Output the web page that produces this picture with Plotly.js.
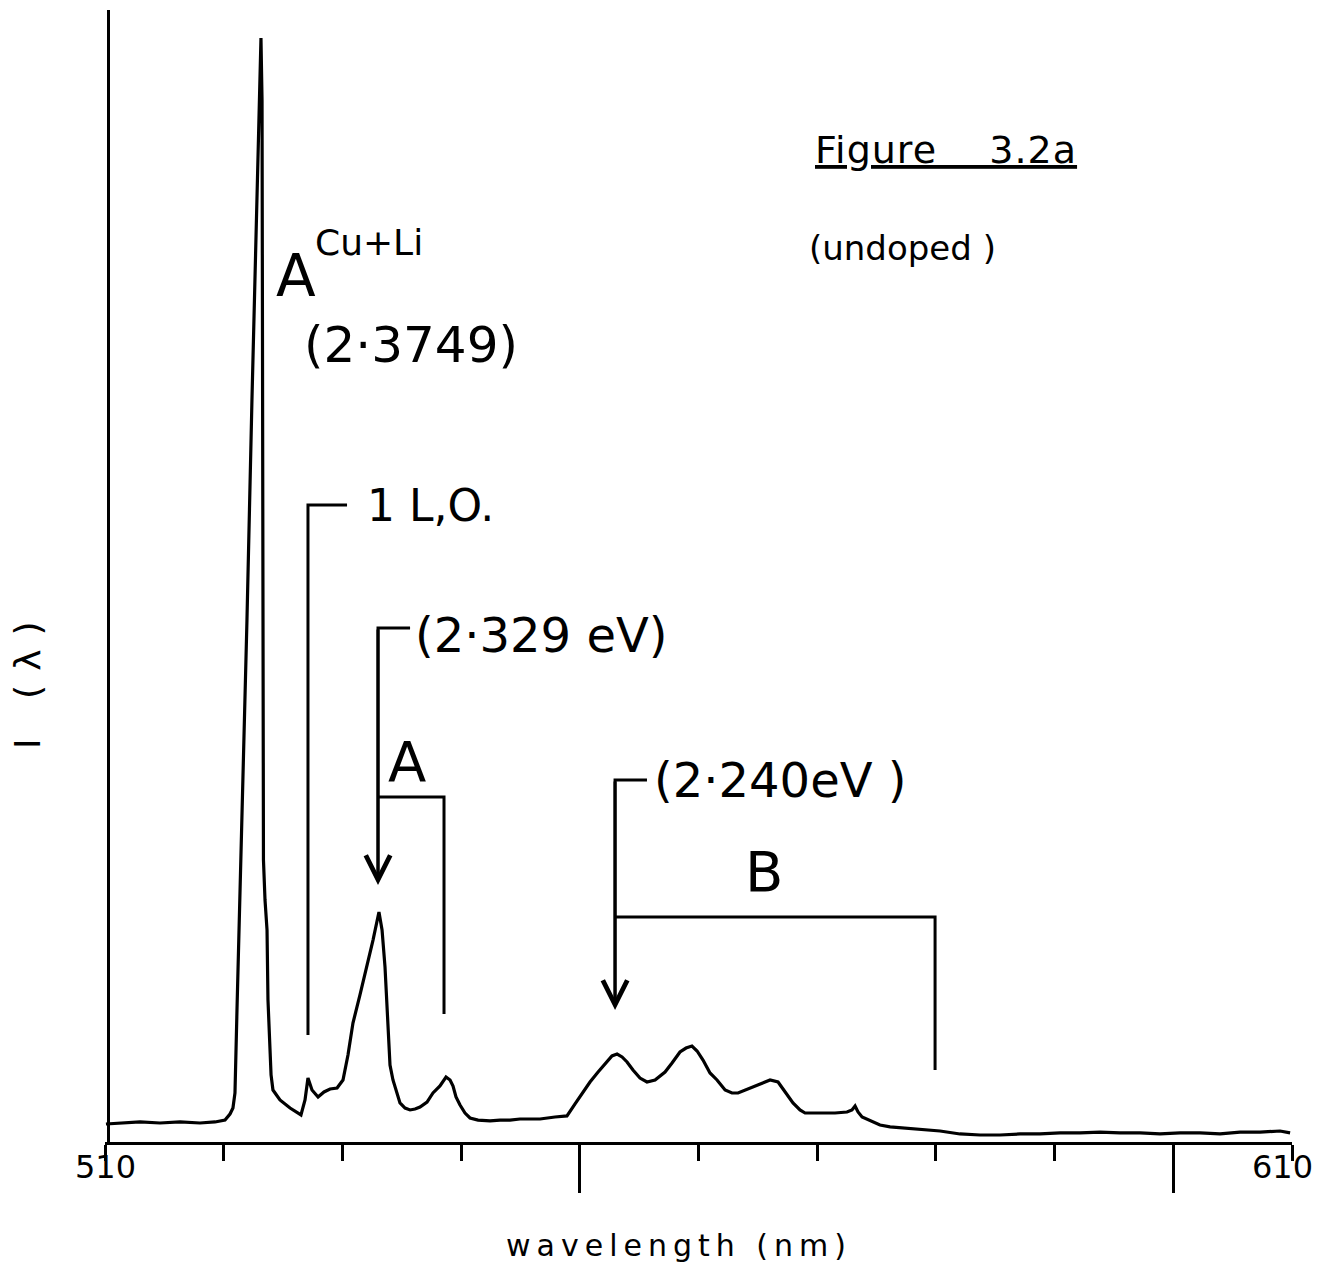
<!DOCTYPE html>
<html>
<head>
<meta charset="utf-8">
<script src="https://cdn.plot.ly/plotly-3.0.1.min.js"></script>
<style>
html, body { margin: 0; padding: 0; background: #ffffff; }
#chart { width: 1319px; height: 1268px; }
.annotation[data-index="0"] text { letter-spacing: 6px; }
.annotation[data-index="1"] text { letter-spacing: 14px; }
.annotation[data-index="2"] text { letter-spacing: 1px; }
</style>
</head>
<body>
<div id="chart"></div>
<script>
// Wavelength (nm) of the traced photoluminescence spectrum
const wavelength = [
  510.08, 511.26, 512.95, 514.63, 516.32, 518.00, 519.27, 520.11, 520.53, 520.78,
  520.95, 521.12, 521.37, 521.63, 521.96, 522.38, 522.72, 522.97, 523.14, 523.23,
  523.27, 523.31, 523.35, 523.48, 523.65, 523.73, 523.90, 523.99, 524.15, 524.74,
  525.59, 526.51, 526.85, 527.10, 527.44, 527.95, 528.45, 528.96, 529.55, 530.05,
  530.47, 530.89, 531.48, 532.07, 532.58, 533.08, 533.34, 533.59, 533.84, 534.01,
  534.26, 534.60, 534.85, 535.28, 535.70, 536.12, 536.54, 537.13, 537.63, 538.22,
  538.73, 539.07, 539.32, 539.57, 539.91, 540.33, 540.75, 541.43, 542.44, 543.28,
  544.12, 544.96, 545.81, 546.65, 547.91, 548.92, 549.60, 550.27, 550.86, 551.54,
  552.13, 552.71, 553.14, 553.56, 553.98, 554.48, 555.07, 555.66, 556.34, 557.18,
  557.77, 558.44, 558.95, 559.45, 559.88, 560.38, 560.97, 561.56, 562.24, 562.82,
  563.33, 563.92, 564.59, 565.35, 566.03, 566.70, 567.29, 567.96, 568.55, 568.98,
  569.82, 570.49, 571.50, 572.51, 572.93, 573.19, 573.44, 573.78, 574.70, 575.29,
  576.14, 577.40, 578.66, 580.35, 582.03, 583.72, 585.40, 587.09, 588.77, 590.46,
  592.14, 593.83, 595.51, 597.20, 598.88, 600.57, 602.25, 603.94, 605.62, 607.31,
  608.99, 609.84
];

// Intensity I(λ), arbitrary units
const intensity = [
  1.59, 1.68, 1.77, 1.68, 1.77, 1.68, 1.77, 1.94, 2.47, 3.00,
  4.33, 11.66, 21.38, 31.98, 46.11, 65.55, 79.68, 91.17, 97.53, 92.05,
  65.55, 39.05, 24.91, 21.38, 18.73, 12.54, 7.24, 5.92, 4.59, 3.71,
  3.00, 2.39, 3.71, 5.65, 4.59, 3.98, 4.42, 4.68, 4.77, 5.48,
  7.69, 10.51, 12.99, 15.46, 17.84, 20.32, 18.73, 15.46, 9.89, 6.80,
  5.48, 4.42, 3.45, 3.00, 2.83, 2.92, 3.09, 3.53, 4.33, 4.95,
  5.74, 5.48, 4.95, 3.98, 3.27, 2.56, 2.12, 1.94, 1.86, 1.94,
  1.94, 2.03, 2.03, 2.03, 2.21, 2.30, 3.36, 4.42, 5.30, 6.18,
  6.89, 7.60, 7.77, 7.51, 7.07, 6.36, 5.65, 5.30, 5.48, 6.18,
  6.98, 7.95, 8.30, 8.48, 8.04, 7.24, 6.10, 5.48, 4.59, 4.33,
  4.33, 4.59, 4.86, 5.21, 5.48, 5.30, 4.42, 3.45, 2.83, 2.56,
  2.56, 2.56, 2.56, 2.65, 2.83, 3.18, 2.65, 2.21, 1.77, 1.50,
  1.33, 1.24, 1.15, 0.97, 0.71, 0.62, 0.62, 0.71, 0.71, 0.80,
  0.80, 0.88, 0.80, 0.80, 0.71, 0.80, 0.80, 0.71, 0.88, 0.88,
  0.97, 0.80
];

// Axis tick labels
const tickValues = [510, 610];
const tickLabels = ['510', '610'];

// Text labels
const xTitle = 'wavelength (nm)';
const yTitle = 'I (λ)';
const figureLabel = 'Figure\u00a0\u00a0\u00a0\u00a03.2a';
const sampleLabel = '(undoped )';
const peakLabels = ['A', 'Cu+Li', '(2·3749)', '1 L,O.', '(2·329 eV)', 'A', '(2·240eV )', 'B'];

const FONT = 'DejaVu Sans, sans-serif';
const INK = '#000000';

function label(text, x, y, size, xanchor) {
  return {
    text: text, x: x, y: y, xref: 'x', yref: 'y',
    xanchor: xanchor || 'left', yanchor: 'middle', showarrow: false,
    font: {family: FONT, size: size, color: INK}
  };
}

const annotations = [
  {text: xTitle, xref: 'paper', yref: 'paper', x: 0.4836, y: -0.091,
   xanchor: 'center', yanchor: 'middle', showarrow: false,
   font: {family: FONT, size: 30, color: INK}},
  {text: yTitle, xref: 'paper', yref: 'paper', x: -0.0649, y: 0.4099,
   xanchor: 'center', yanchor: 'middle', textangle: -90, showarrow: false,
   font: {family: FONT, size: 36, color: INK}},
  label('<u>' + figureLabel + '</u>', 570.24, 87.63, 38),
  label(sampleLabel, 569.14, 78.98, 34),
  label(peakLabels[0], 526.09, 76.5, 58, 'center'),
  label(peakLabels[1], 527.52, 79.42, 36),
  label(peakLabels[2], 526.6, 70.41, 50),
  label(peakLabels[3], 531.91, 56.27, 44),
  label(peakLabels[4], 535.95, 44.79, 48),
  label(peakLabels[5], 535.44, 33.57, 56, 'center'),
  label(peakLabels[6], 556.08, 31.98, 48),
  label(peakLabels[7], 565.52, 23.94, 56, 'center')
];

const tickShift = [0, -10];
tickValues.forEach(function (v, i) {
  annotations.push({
    text: tickLabels[i], x: v, y: -0.0221, xref: 'x', yref: 'paper',
    xanchor: 'center', yanchor: 'middle', showarrow: false, xshift: tickShift[i],
    font: {family: FONT, size: 32, color: INK}
  });
});

// arrow heads pointing at the two marked peaks
[[533.0, 22.7, 45.41], [552.97, 11.66, 31.98]].forEach(function (a) {
  annotations.push({
    text: '', x: a[0], y: a[1], ax: a[0], ay: a[2],
    xref: 'x', yref: 'y', axref: 'x', ayref: 'y',
    showarrow: true, arrowhead: 5, arrowsize: 1.6, arrowwidth: 3,
    arrowcolor: INK, standoff: 0, startstandoff: 0
  });
});

const bracketLine = {color: INK, width: 3};
const shapes = [
  'M 527.10,9.45 V 56.27 H 530.39',
  'M 533.00,23.2 V 45.41 H 535.70',
  'M 533.00,30.48 H 538.56 V 11.31',
  'M 552.97,12.2 V 31.98 H 555.66',
  'M 552.97,19.88 H 579.93 V 6.36'
].map(function (p) {
  return {type: 'path', path: p, xref: 'x', yref: 'y', line: bracketLine};
});

const trace = {
  x: wavelength, y: intensity, type: 'scatter', mode: 'lines',
  line: {color: INK, width: 3.2}, hoverinfo: 'skip'
};

const layout = {
  width: 1319, height: 1268,
  margin: {l: 105, r: 27, t: 10, b: 126},
  paper_bgcolor: '#ffffff', plot_bgcolor: '#ffffff',
  showlegend: false,
  xaxis: {
    range: [510, 610], showline: true, linewidth: 3, linecolor: INK,
    ticks: 'outside', tickmode: 'linear', tick0: 500, dtick: 50,
    ticklen: 48, tickwidth: 3, tickcolor: INK, showticklabels: false,
    showgrid: false, zeroline: false,
    minor: {tickmode: 'linear', tick0: 510, dtick: 10, ticklen: 16,
            tickwidth: 3, tickcolor: INK, ticks: 'outside', showgrid: false}
  },
  yaxis: {
    range: [0, 100], showline: true, linewidth: 3, linecolor: INK,
    ticks: '', showticklabels: false, showgrid: false, zeroline: false,
    anchor: 'free', position: 0.0025
  },
  annotations: annotations,
  shapes: shapes
};

Plotly.newPlot('chart', [trace], layout, {staticPlot: true, displayModeBar: false});
</script>
</body>
</html>
